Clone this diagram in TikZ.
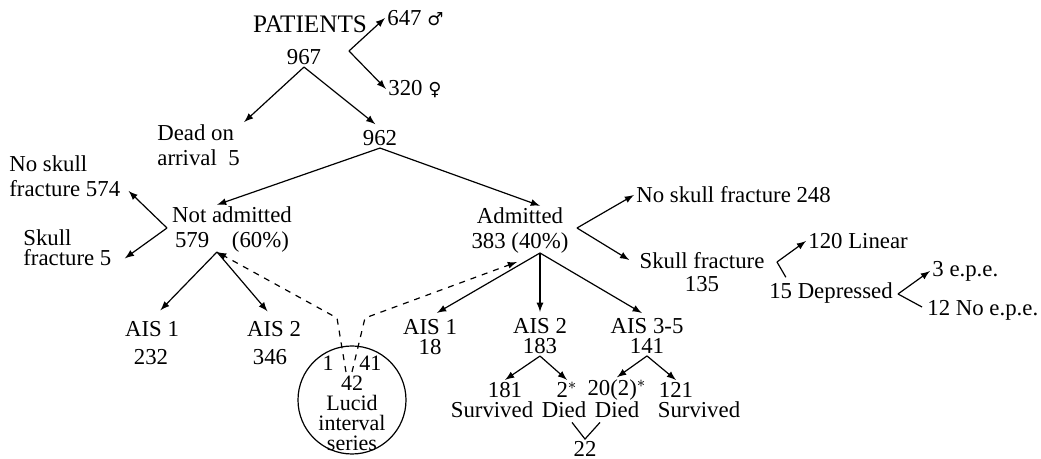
\documentclass[tikz,border=0pt]{standalone}
\usepackage{fontspec}
\setmainfont{Liberation Serif}
\newfontfamily\symb{DejaVu Sans}
\usetikzlibrary{calc}
\tikzset{
  lbl/.style={inner sep=1pt, align=center, font=\fontsize{11.4}{12.5}\selectfont},
  arr/.style={-latex, line width=0.6pt},
  dsh/.style={-latex, dashed, line width=0.6pt},
  brk/.style={line width=0.6pt}
}
\begin{document}
\begin{tikzpicture}[x=0.5pt,y=-0.5pt]
\useasboundingbox (0,0) rectangle (1041,459);
\node[lbl,font=\fontsize{12.6}{13}\selectfont] (pat) at (310,24) {PATIENTS};
\node[lbl] (n967) at (304,57) {967};
\node[lbl,anchor=west] (male) at (385,18) {647 {\symb\fontsize{9}{10}\selectfont ♂}};
\node[lbl,anchor=west] (female) at (386,89) {320 {\symb\fontsize{9}{10}\selectfont ♀}};
\coordinate (vsex) at (349,51);
\draw[arr] (vsex) -- (male.west);
\draw[arr] (vsex) -- (female.west);
\node[lbl,anchor=west,align=left] (doa) at (155,145) {Dead on\\arrival\ \ 5};
\node[lbl] (n962) at (380,138) {962};
\draw[arr] (n967.south) -- ($(doa.north east)+(2,0)$);
\draw[arr,shorten >=3pt] (n967.south) -- (n962.north);
\node[lbl] (notadm) at (232,230) {Not admitted\\579\quad(60\%)};
\node[lbl] (adm) at (520,231) {Admitted\\383 (40\%)};
\draw[arr] (n962.south) -- ($(notadm.north)+(-15,0)$);
\draw[arr] (n962.south) -- ($(adm.north)+(20,0)$);
\coordinate (apexN) at (217,252);
\coordinate (apexA) at (540,253);
% not admitted: skull fracture
\node[lbl,anchor=west,align=left] (nsf574) at (7,176) {No skull\\fracture 574};
\node[lbl,anchor=west,align=left,font=\fontsize{11.4}{10}\selectfont] (sf5) at (21,248) {Skull\\fracture 5};
\coordinate (vN) at (167,228);
\draw[arr] (vN) -- ($(nsf574.south east)+(6,-8)$);
\draw[arr] (vN) -- ($(sf5.south east)+(11,-10)$);
\node[lbl] (ais1L) at (152,329) {AIS 1};
\node[lbl] (n232) at (151,357) {232};
\node[lbl] (ais2L) at (274,329) {AIS 2};
\node[lbl] (n346) at (270,357) {346};
\draw[arr,shorten >=6pt] (apexN) -- (ais1L.north);
\draw[arr,shorten >=5pt] (apexN) -- (ais2L.north);
% lucid interval series
\node[draw,circle,line width=0.6pt,minimum size=54pt,inner sep=0pt] (lucid) at (352,400) {};
\node[lbl,font=\fontsize{11}{10}\selectfont] (lucidtxt) at (352,403) {1\hspace{13pt}41\\42\\Lucid\\interval\\series};
\coordinate (dL) at (337,318);
\coordinate (dR) at (365,318);
\coordinate (cL) at (346,372);
\coordinate (cR) at (352,372);
\draw[dsh] (cL) -- (dL) -- (apexN);
\draw[dsh] (cR) -- (dR) -- ($(apexA)+(-23,9)$);
% admitted
\node[lbl,anchor=west] (nsf248) at (634,195) {No skull fracture 248};
\node[lbl,font=\fontsize{11.4}{11.5}\selectfont] (sf135) at (702,272) {Skull fracture\\135};
\coordinate (vA) at (577,228);
\draw[arr] (vA) -- (nsf248.west);
\draw[arr] (vA) -- ($(sf135.west)+(-8,-12)$);
\node[lbl,anchor=west] (lin120) at (806,241) {120 Linear};
\node[lbl] (dep15) at (831,293) {15 Depressed};
\coordinate (vSF) at (777,262);
\draw[arr] (vSF) -- (lin120.west);
\draw[brk] (vSF) -- ($(dep15.north west)+(19,-3)$);
\node[lbl,anchor=west] (epe3) at (930,271) {3 e.p.e.};
\node[lbl,anchor=west] (epe12) at (925,310) {12 No e.p.e.};
\coordinate (vD) at (898,294);
\draw[arr] (vD) -- (epe3.west);
\draw[brk] (vD) -- ($(epe12.west)+(-3,-3)$);
% AIS of admitted
\node[lbl,font=\fontsize{11.4}{10}\selectfont] (ais1R) at (430,337) {AIS 1\\18};
\node[lbl,font=\fontsize{11.4}{10}\selectfont] (ais2R) at (540,336) {AIS 2\\183};
\node[lbl,font=\fontsize{11.4}{10}\selectfont] (ais3R) at (647,336) {AIS 3-5\\141};
\draw[arr,shorten >=4pt] (apexA) -- (ais1R.north);
\draw[arr,shorten >=2pt] (apexA) -- (ais2R.north);
\draw[arr,shorten >=3pt] (apexA) -- (ais3R.north);
\node[lbl] (n181) at (505,390) {181};
\node[lbl] (surv1) at (492,410) {Survived};
\node[lbl] (n2) at (567,390) {2$^{*}$};
\node[lbl] (died1) at (564,410) {Died};
\node[lbl] (n20) at (617,390) {20(2)$^{*}$};
\node[lbl] (died2) at (617,410) {Died};
\node[lbl] (n121) at (676,390) {121};
\node[lbl] (surv2) at (699,410) {Survived};
\draw[arr] (ais2R.south) -- (n181.north);
\draw[arr] (ais2R.south) -- (n2.north);
\draw[arr] (ais3R.south) -- (n20.north);
\draw[arr] (ais3R.south) -- (n121.north);
\node[lbl] (n22) at (585,449) {22};
\draw[brk] ($(died1.south)+(8,2)$) -- (n22.north) -- ($(died2.south)+(-17,2)$);
\end{tikzpicture}
\end{document}
